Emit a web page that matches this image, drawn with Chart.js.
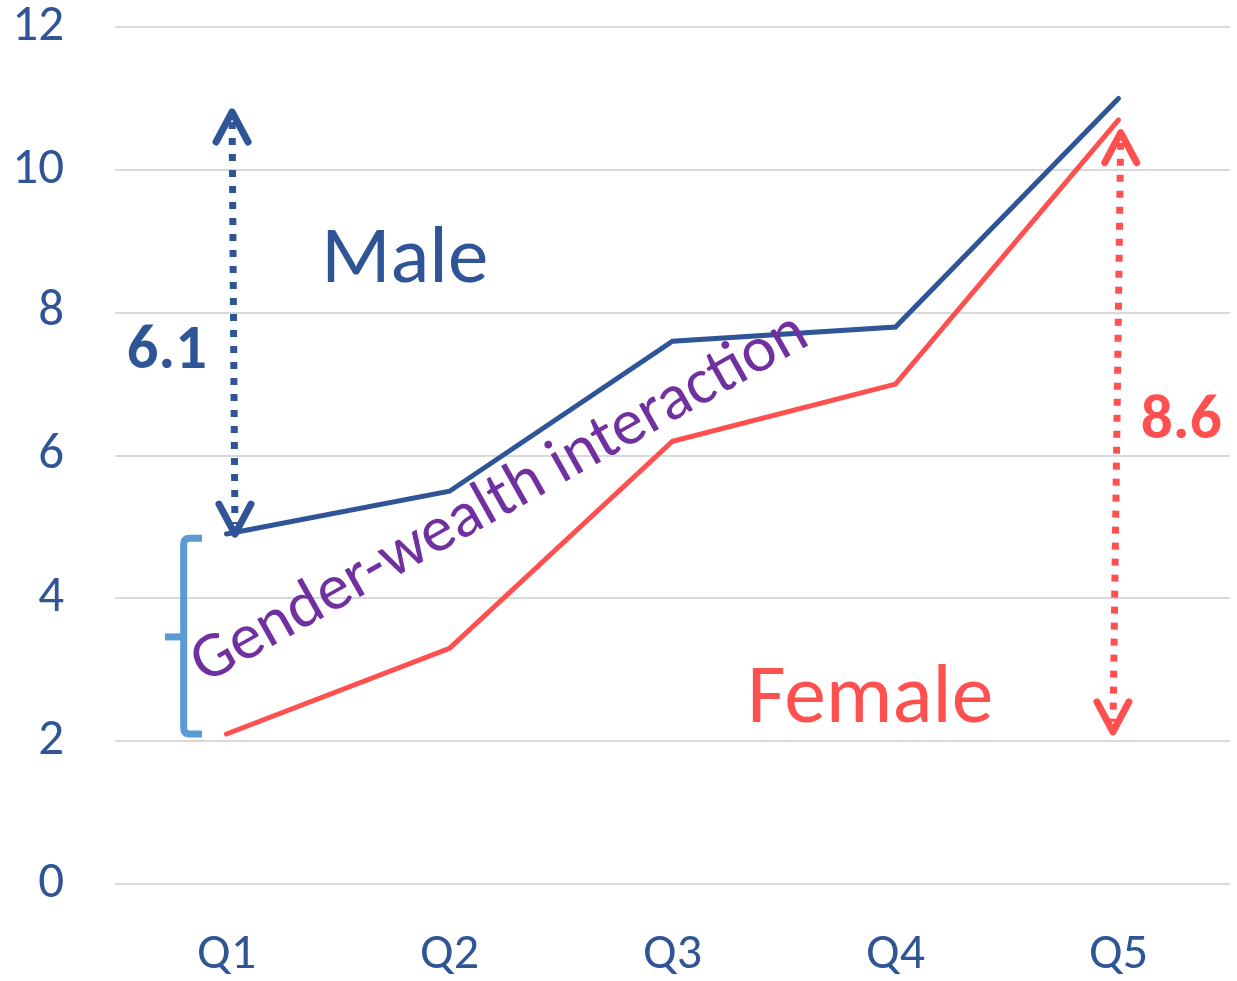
<!DOCTYPE html>
<html><head><meta charset="utf-8">
<script src="https://cdn.jsdelivr.net/npm/chart.js@4/dist/chart.umd.min.js"></script>
<style>html,body{margin:0;padding:0;background:#fff}#wrap{width:1237px;height:981px}</style>
</head><body><div id="wrap"><canvas id="c" width="1237" height="981"></canvas></div>
<script>
const categories = ['Q1', 'Q2', 'Q3', 'Q4', 'Q5'];
const maleValues = [4.9, 5.5, 7.6, 7.8, 11.0];
const femaleValues = [2.1, 3.3, 6.2, 7.0, 10.7];
const yTicks = [0, 2, 4, 6, 8, 10, 12];
const seriesLabels = ['Male', 'Female'];
const interactionLabel = 'Gender-wealth interaction';

const BLUE = '#2F5597', RED = '#FF5050', PURPLE = '#7030A0', BRACE = '#5B9BD5', GRID = '#D9D9D9';
const FAMILY = "Carlito, Calibri, 'Open Sans', sans-serif";

function fitSize(ctx, text, weight, targetW) {
  ctx.font = weight + ' 100px ' + FAMILY;
  return 100 * targetW / ctx.measureText(text).width;
}

function chevron(ctx, tipX, tipY, dir, hw, depth) {
  ctx.beginPath();
  ctx.moveTo(tipX - hw, tipY + dir * depth);
  ctx.lineTo(tipX, tipY);
  ctx.lineTo(tipX + hw, tipY + dir * depth);
  ctx.stroke();
}

function dottedArrow(ctx, x1, y1, x2, y2, color) {
  ctx.save();
  ctx.strokeStyle = color;
  ctx.lineWidth = 7;
  ctx.setLineDash([7, 9]);
  ctx.lineCap = 'butt';
  ctx.beginPath();
  const t1 = 10 / (y2 - y1), t2 = 1 - 10 / (y2 - y1);
  ctx.moveTo(x1 + (x2 - x1) * t1, y1 + (y2 - y1) * t1);
  ctx.lineTo(x1 + (x2 - x1) * t2, y1 + (y2 - y1) * t2);
  ctx.stroke();
  ctx.setLineDash([]);
  ctx.lineWidth = 7;
  ctx.lineCap = 'round';
  ctx.lineJoin = 'round';
  chevron(ctx, x1, y1, 1, 16, 30);
  chevron(ctx, x2, y2, -1, 16, 30);
  ctx.restore();
}

const annotations = {
  id: 'annotations',
  afterDatasetsDraw(chart) {
    const ctx = chart.ctx;
    const xs = chart.scales.x, ys = chart.scales.y;
    const X = v => xs.getPixelForValue(v);
    const Y = v => ys.getPixelForValue(v);
    const n = maleValues.length - 1;
    const maleGap = (maleValues[n] - maleValues[0]).toFixed(1);
    const femaleGap = (femaleValues[n] - femaleValues[0]).toFixed(1);

    // brace
    ctx.save();
    ctx.strokeStyle = BRACE;
    ctx.lineWidth = 7;
    ctx.lineCap = 'butt';
    ctx.lineJoin = 'round';
    const bx = X(-0.192), bxe = X(-0.11), bxn = X(-0.276);
    const bt = Y(maleValues[0] - 0.06), bb = Y(femaleValues[0]), bm = Y(3.46);
    ctx.beginPath();
    ctx.moveTo(bxe, bt);
    ctx.lineTo(bx + 6, bt);
    ctx.quadraticCurveTo(bx, bt, bx, bt + 6);
    ctx.lineTo(bx, bb - 6);
    ctx.quadraticCurveTo(bx, bb, bx + 6, bb);
    ctx.lineTo(bxe, bb);
    ctx.stroke();
    ctx.beginPath();
    ctx.moveTo(bxn, bm);
    ctx.lineTo(bx, bm);
    ctx.stroke();
    ctx.restore();

    // arrows
    dottedArrow(ctx, X(0.025), Y(10.81), X(0.038), Y(maleValues[0]), BLUE);
    dottedArrow(ctx, X(4.01), Y(10.52), X(3.975), Y(2.13), RED);

    ctx.save();
    ctx.textAlign = 'left';
    ctx.textBaseline = 'alphabetic';
    ctx.fillStyle = BLUE;
    ctx.font = fitSize(ctx, seriesLabels[0], 'normal', 167) + 'px ' + FAMILY;
    ctx.fillText(seriesLabels[0], X(0.425), Y(8.43));
    ctx.fillStyle = RED;
    ctx.font = fitSize(ctx, seriesLabels[1], 'normal', 246) + 'px ' + FAMILY;
    ctx.fillText(seriesLabels[1], X(2.335), Y(2.27));
    ctx.fillStyle = BLUE;
    ctx.font = 'bold ' + fitSize(ctx, maleGap, 'bold', 80) + 'px ' + FAMILY;
    ctx.fillText(maleGap, X(-0.447), Y(7.22));
    ctx.fillStyle = RED;
    ctx.font = 'bold ' + fitSize(ctx, femaleGap, 'bold', 81) + 'px ' + FAMILY;
    ctx.fillText(femaleGap, X(4.1), Y(6.24));
    ctx.fillStyle = PURPLE;
    ctx.font = fitSize(ctx, interactionLabel, 'normal', 696) + 'px ' + FAMILY;
    ctx.translate(X(-0.098), Y(2.80));
    ctx.rotate(-29.3 * Math.PI / 180);
    ctx.fillText(interactionLabel, 0, 0);
    ctx.restore();
  }
};

new Chart(document.getElementById('c'), {
  type: 'line',
  data: {
    labels: categories,
    datasets: [
      { label: seriesLabels[0], data: maleValues, borderColor: BLUE, borderWidth: 5, pointRadius: 0, tension: 0, borderCapStyle: 'round', borderJoinStyle: 'miter' },
      { label: seriesLabels[1], data: femaleValues, borderColor: RED, borderWidth: 5, pointRadius: 0, tension: 0, borderCapStyle: 'round', borderJoinStyle: 'miter' }
    ]
  },
  options: {
    responsive: false,
    animation: false,
    events: [],
    layout: { padding: { top: 27, right: 7, left: 0, bottom: 0 } },
    plugins: { legend: { display: false }, tooltip: { enabled: false } },
    scales: {
      x: {
        offset: true,
        grid: { display: false, drawTicks: false },
        border: { display: false },
        ticks: { color: BLUE, font: { family: FAMILY, size: 50, lineHeight: 1 }, padding: 46, maxRotation: 0 },
        afterFit: s => { s.height = 97; s.paddingLeft = 0; s.paddingRight = 0; }
      },
      y: {
        min: 0, max: 12,
        afterBuildTicks: s => { s.ticks = yTicks.map(v => ({ value: v })); },
        grid: { color: GRID, lineWidth: 2, drawTicks: false },
        border: { display: false },
        ticks: { color: BLUE, font: { family: FAMILY, size: 51, lineHeight: 1 }, padding: 51 },
        afterFit: s => { s.width = 115; s.paddingTop = 0; s.paddingBottom = 0; }
      }
    }
  },
  plugins: [annotations]
});
</script></body></html>
